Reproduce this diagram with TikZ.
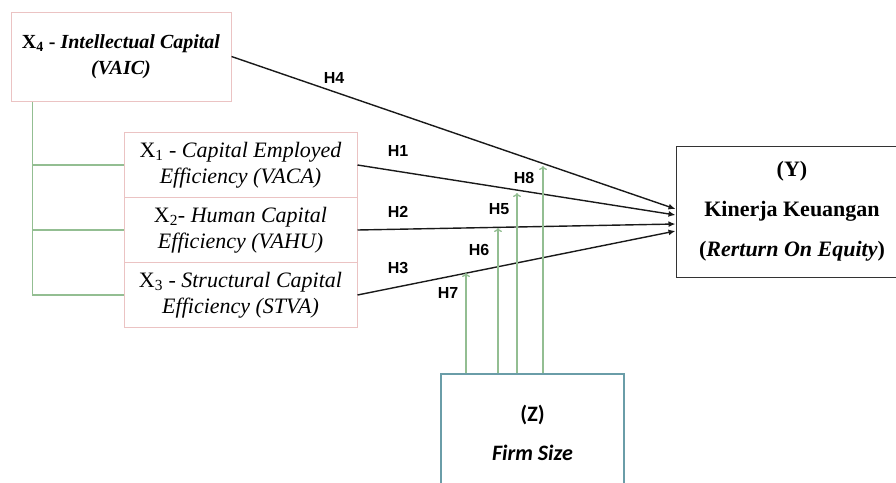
\documentclass[tikz,border=0pt]{standalone}
\usepackage{fontspec}
\setmainfont{Liberation Serif}
\newfontfamily\hfont{Liberation Sans}
\newfontfamily\zfont{Carlito}
\usetikzlibrary{arrows.meta}
\definecolor{boxpink}{HTML}{EBC3C3}
\definecolor{linkgreen}{HTML}{93BE92}
\definecolor{zteal}{HTML}{6A9DA8}
\tikzset{
  varbox/.style={draw=boxpink, line width=1pt, fill=white, align=center,
    font=\fontsize{22}{26.5}\selectfont, inner sep=0pt},
  ybox/.style={draw=black!80, line width=1pt, align=center,
    font=\fontsize{22}{40}\selectfont\bfseries, inner sep=0pt},
  zbox/.style={draw=zteal, line width=1.2pt, align=center,
    font=\zfont\fontsize{22}{39}\selectfont\bfseries, inner sep=0pt},
  hyp/.style={font=\hfont\fontsize{16}{16}\selectfont\bfseries},
  effect/.style={draw=black!90, line width=1.4pt, -{Latex[length=7pt,width=6pt]}},
  moder/.style={draw=linkgreen, line width=1.3pt, -{To[length=4pt,width=8pt]}},
  branch/.style={draw=linkgreen, line width=1.3pt}
}
\begin{document}
\begin{tikzpicture}[x=1pt, y=-1pt]
\useasboundingbox (0,0) rectangle (896,482);
% variables
\node[varbox, font=\fontsize{20}{26}\selectfont, minimum width=220pt, minimum height=89pt] (x4) at (121,56.5)
  {\textbf{X\textsubscript{4} - \textit{Intellectual Capital}}\\\textbf{\textit{(VAIC)}}};
\node[varbox, minimum width=233pt, minimum height=65pt] (x1) at (240.5,165)
  {X\textsubscript{1} - \textit{Capital Employed}\\\textit{Efficiency (VACA)}};
\node[varbox, minimum width=233pt, minimum height=65pt] (x2) at (240.5,230)
  {X\textsubscript{2}- \textit{Human Capital}\\\textit{Efficiency (VAHU)}};
\node[varbox, minimum width=233pt, minimum height=65pt] (x3) at (240.5,295)
  {X\textsubscript{3} - \textit{Structural Capital}\\\textit{Efficiency (STVA)}};
\node[ybox, minimum width=232pt, minimum height=131pt] (y) at (792,211.5)
  {(Y)\\Kinerja Keuangan\\(\textit{Rerturn On Equity})};
\node[zbox, minimum width=183pt, minimum height=117pt] (z) at (532.5,432.5)
  {(Z)\\\textit{Firm Size}};

% green bracket
\coordinate (stem) at ([xshift=22pt]x4.south west);
\draw[branch] (stem) |- (x3.west);
\draw[branch] (stem |- x1.west) -- (x1.west);
\draw[branch] (stem |- x2.west) -- (x2.west);

% direct effects
\draw[effect] (x4.east) -- ([yshift=2.5pt]y.west);
\draw[effect] (x1.east) -- ([yshift=-3.5pt]y.west);
\draw[effect] (x2.east) -- ([yshift=-12.5pt]y.west);
\draw[effect] (x3.east) -- ([yshift=-19.5pt]y.west);

% moderation
\coordinate (m7) at (466,273);
\coordinate (m6) at (498,228);
\coordinate (m5) at (517,193);
\coordinate (m8) at (543,166);
\foreach \m in {m5,m6,m7,m8}
  \draw[moder] (\m |- z.north) -- (\m);

% labels
\node[hyp] (h4) at (334,78) {H4};
\node[hyp] (h1) at (398,151) {H1};
\node[hyp] (h2) at (398,212) {H2};
\node[hyp] (h3) at (398,268) {H3};
\node[hyp] (h8) at (524,178) {H8};
\node[hyp] (h5) at (499,209) {H5};
\node[hyp] (h6) at (479,250) {H6};
\node[hyp] (h7) at (448,293) {H7};
\end{tikzpicture}
\end{document}
